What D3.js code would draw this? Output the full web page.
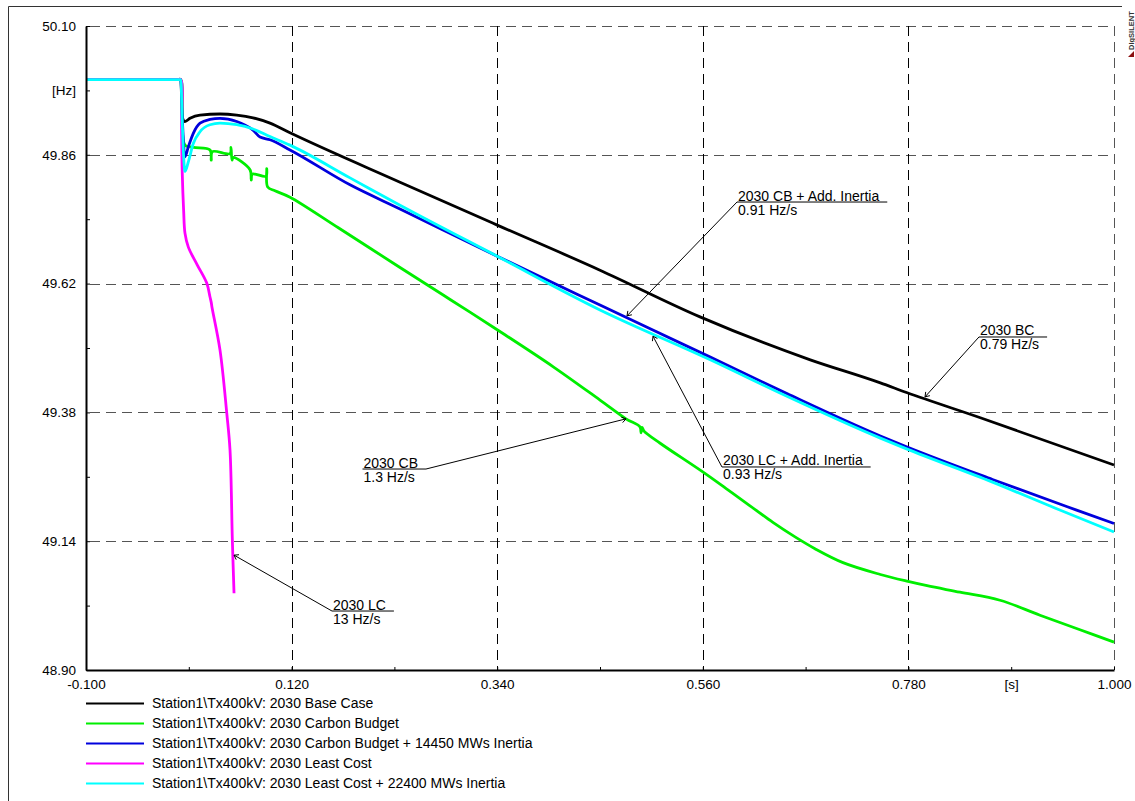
<!DOCTYPE html>
<html><head><meta charset="utf-8">
<script src="https://cdn.jsdelivr.net/npm/d3@7"></script>
<style>
body{margin:0;background:#fff}
svg{display:block}
text{font-family:"Liberation Sans",Arial,sans-serif;fill:#000}
</style>
</head><body><svg id="c" width="1135" height="801"></svg>
<script>
// ---------- axis ticks ----------
const xMajorTicks = [-0.1, 0.12, 0.34, 0.56, 0.78, 1.0];
const xTickLabels = ["-0.100", "0.120", "0.340", "0.560", "0.780", "1.000"];
const xMinorTicks = [0.01, 0.23, 0.45, 0.67, 0.89];
const xUnitLabel = "[s]";      // shown at minor tick 0.89
const yMajorTicks = [48.90, 49.14, 49.38, 49.62, 49.86, 50.10];
const yTickLabels = ["48.90", "49.14", "49.38", "49.62", "49.86", "50.10"];
const yMinorTicks = [49.02, 49.26, 49.50, 49.74, 49.98];
const yUnitLabel = "[Hz]";     // shown at minor tick 49.98

// ---------- series (time [s], frequency [Hz]) ----------
const seriesNames = [
  "Station1\\Tx400kV: 2030 Base Case",
  "Station1\\Tx400kV: 2030 Carbon Budget",
  "Station1\\Tx400kV: 2030 Carbon Budget + 14450 MWs Inertia",
  "Station1\\Tx400kV: 2030 Least Cost",
  "Station1\\Tx400kV: 2030 Least Cost + 22400 MWs Inertia"
];
const seriesColors = ["#000000", "#00ee00", "#0000dd", "#ff00ff", "#00ffff"];

const baseCase = [[-0.1,50.0],[0.0015,50.0],[0.0030,49.93],[0.0059,49.922],[0.0113,49.928],[0.022,49.934],[0.0434,49.936],[0.0613,49.934],[0.0787,49.929],[0.0969,49.919],[0.1183,49.901],[0.236,49.809],[0.340,49.729],[0.450,49.645],[0.557,49.558],[0.675,49.478],[0.750,49.435],[0.778,49.417],[0.857,49.370],[1.0,49.282]];

const carbonBudget = [[-0.1,50.0],[-0.003,50.0],[0.0015,50.0],[0.0030,49.93],[0.0059,49.878],[0.015,49.874],[0.0327,49.869],[0.0340,49.850],[0.0352,49.866],[0.0541,49.862],[0.0552,49.874],[0.0562,49.850],[0.0575,49.855],[0.0755,49.832],[0.0768,49.813],[0.0780,49.824],[0.0926,49.820],[0.0934,49.834],[0.0944,49.800],[0.1022,49.793],[0.1183,49.781],[0.17,49.724],[0.236,49.650],[0.29,49.590],[0.340,49.534],[0.40,49.465],[0.450,49.403],[0.4778,49.368],[0.4928,49.353],[0.4939,49.342],[0.4950,49.352],[0.4971,49.345],[0.514,49.323],[0.5592,49.270],[0.585,49.238],[0.6105,49.206],[0.635,49.175],[0.6587,49.148],[0.68,49.126],[0.71,49.100],[0.75,49.078],[0.7796,49.065],[0.80,49.057],[0.8352,49.045],[0.878,49.030],[0.9208,49.002],[0.9636,48.975],[1.0,48.952]];

const cbInertia = [[-0.1,50.0],[0.0015,50.0],[0.0030,49.93],[0.0059,49.856],[0.0095,49.875],[0.0148,49.900],[0.022,49.919],[0.0327,49.926],[0.0434,49.928],[0.0613,49.922],[0.0787,49.906],[0.0862,49.893],[0.0969,49.888],[0.1183,49.869],[0.1825,49.804],[0.236,49.759],[0.340,49.671],[0.450,49.580],[0.568,49.483],[0.65,49.415],[0.750,49.336],[0.778,49.316],[0.87,49.255],[0.960,49.198],[1.0,49.173]];

const leastCost = [[-0.1,50.0],[-0.003,50.0],[0.0015,50.0],[0.0022,49.92],[0.0030,49.826],[0.0045,49.755],[0.0059,49.714],[0.0095,49.688],[0.0190,49.655],[0.0292,49.621],[0.0327,49.595],[0.0340,49.585],[0.0348,49.576],[0.0434,49.496],[0.0506,49.379],[0.0541,49.310],[0.0566,49.142],[0.0584,49.043]];

const lcInertia = [[-0.1,50.0],[0.0015,50.0],[0.0030,49.92],[0.0059,49.829],[0.0095,49.847],[0.0148,49.881],[0.022,49.903],[0.0327,49.916],[0.0434,49.919],[0.0613,49.916],[0.0787,49.908],[0.0969,49.894],[0.1183,49.878],[0.1825,49.817],[0.236,49.766],[0.340,49.671],[0.450,49.571],[0.568,49.478],[0.65,49.410],[0.750,49.332],[0.778,49.312],[0.87,49.250],[0.942,49.198],[1.0,49.157]];

const allSeries = [baseCase, carbonBudget, cbInertia, leastCost, lcInertia];
const seriesCurve = ["monotone", "catmull", "monotone", "catmull", "monotone"];

// ---------- annotations (text lines, point on curve, label attach point) ----------
const annoText = [
  ["2030 CB + Add. Inertia", "0.91 Hz/s"],
  ["2030 BC", "0.79 Hz/s"],
  ["2030 CB", "1.3 Hz/s"],
  ["2030 LC", "13 Hz/s"],
  ["2030 LC + Add. Inertia", "0.93 Hz/s"]
];
const annoPoint  = [[0.4789,49.560],[0.7978,49.409],[0.4778,49.368],[0.0584,49.114],[0.5067,49.522]];
const annoAttach = [[0.5966,49.772],[0.8555,49.5205],[0.2638,49.2745],[0.1632,49.0099],[0.5805,49.2783]];
const annoSide   = ["left","left","right","left","left"];

// ---------- drawing ----------
const svg = d3.select("#c");
svg.append("rect").attr("width",1135).attr("height",801).attr("fill","#fff");

const x = d3.scaleLinear().domain([-0.1, 1.0]).range([86, 1114]);
const y = d3.scaleLinear().domain([48.90, 50.10]).range([670, 26]);

// outer frame
svg.append("line").attr("x1",8.5).attr("x2",8.5).attr("y1",6.5).attr("y2",801).attr("stroke","#333");
svg.append("line").attr("x1",8.5).attr("x2",1122).attr("y1",6.5).attr("y2",6.5).attr("stroke","#333");

// logo
svg.append("text").attr("transform","translate(1134,50) rotate(-90)")
  .attr("font-size",7.5).attr("font-weight","bold").style("fill","#333").text("DIgSILENT");
svg.append("path").attr("d","M1128,57 L1134,51 L1134,57 Z").attr("fill","#8b1010");

// grid
const grid = svg.append("g");
yMajorTicks.filter(v => v > 48.9).forEach(v => {
  grid.append("line").attr("x1",86).attr("x2",1114)
    .attr("y1",Math.round(y(v))+0.5).attr("y2",Math.round(y(v))+0.5)
    .attr("stroke","#555").attr("stroke-dasharray","10,6").attr("stroke-dashoffset",12);
});
xMajorTicks.filter(v => v > -0.1).forEach(v => {
  grid.append("line").attr("x1",Math.round(x(v))+0.5).attr("x2",Math.round(x(v))+0.5)
    .attr("y1",26).attr("y2",670)
    .attr("stroke", v >= 1.0 ? "#555" : "#000").attr("stroke-dasharray","10,6");
});

// curves
const curveTypes = {
  monotone: d3.curveMonotoneX,
  catmull: d3.curveCatmullRom.alpha(0.5)
};
const curves = svg.append("g");
allSeries.forEach((s, i) => {
  const gen = d3.line().x(d => x(d[0])).y(d => y(d[1])).curve(curveTypes[seriesCurve[i]]);
  curves.append("path").attr("d", gen(s)).attr("fill","none")
    .attr("stroke", seriesColors[i]).attr("stroke-width", 2.8)
    .attr("stroke-linejoin","round");
});

// axes
const xTicksAll = xMajorTicks.concat(xMinorTicks);
const xFmt = v => {
  const i = xMajorTicks.indexOf(v);
  if (i >= 0) return xTickLabels[i];
  return v === 0.89 ? xUnitLabel : "";
};
const xAxis = d3.axisBottom(x).tickValues(xTicksAll).tickFormat(xFmt)
  .tickSizeInner(-3).tickSizeOuter(0).tickPadding(9);
const gx = svg.append("g").attr("transform","translate(0,670)").call(xAxis);
gx.select(".domain").attr("stroke","#000").attr("stroke-width",2);
gx.selectAll(".tick text").attr("font-size",13.5).style("font-family","'Liberation Sans',Arial,sans-serif");
gx.selectAll(".tick line").attr("stroke","#000");

const yTicksAll = yMajorTicks.concat(yMinorTicks);
const yFmt = v => {
  const i = yMajorTicks.indexOf(v);
  if (i >= 0) return yTickLabels[i];
  return v === 49.98 ? yUnitLabel : "";
};
const yAxis = d3.axisLeft(y).tickValues(yTicksAll).tickFormat(yFmt)
  .tickSizeInner(-4).tickSizeOuter(0).tickPadding(10);
const gy = svg.append("g").attr("transform","translate(86,0)").call(yAxis);
gy.select(".domain").attr("stroke","#000").attr("stroke-width",2);
gy.selectAll(".tick text").attr("font-size",13.5).style("font-family","'Liberation Sans',Arial,sans-serif");
gy.selectAll(".tick line").attr("stroke","#000");

// annotations
const ag = svg.append("g");
annoText.forEach((lines, i) => {
  const ax = x(annoAttach[i][0]), ay = y(annoAttach[i][1]);
  const px = x(annoPoint[i][0]), py = y(annoPoint[i][1]);
  const t1 = ag.append("text").attr("font-size",14).text(lines[0]);
  const t2 = ag.append("text").attr("font-size",14).text(lines[1]);
  const w = Math.max(t1.node().getComputedTextLength(), t2.node().getComputedTextLength()) + 9;
  const left = annoSide[i] === "left" ? ax : ax - w;
  t1.attr("x", left + 1).attr("y", ay - 1.5);
  t2.attr("x", left + 1).attr("y", ay + 12.5);
  ag.append("line").attr("x1", left).attr("x2", left + w).attr("y1", ay).attr("y2", ay)
    .attr("stroke","#000").attr("stroke-width",1);
  ag.append("line").attr("x1", ax).attr("y1", ay).attr("x2", px).attr("y2", py)
    .attr("stroke","#000").attr("stroke-width",1);
  // small arrow barb
  const ang = Math.atan2(ay - py, ax - px);
  [0.6, -0.6].forEach(da => {
    ag.append("line").attr("x1", px).attr("y1", py)
      .attr("x2", px + 5 * Math.cos(ang + da)).attr("y2", py + 5 * Math.sin(ang + da))
      .attr("stroke","#000").attr("stroke-width",1);
  });
});

// legend
const lg = svg.append("g");
seriesNames.forEach((n, i) => {
  const ly = 703.5 + i * 20;
  lg.append("line").attr("x1",86).attr("x2",144).attr("y1",ly).attr("y2",ly)
    .attr("stroke", seriesColors[i]).attr("stroke-width",2);
  lg.append("text").attr("x",152).attr("y",ly).attr("dy","0.35em")
    .attr("font-size",14).text(n);
});
</script>
</body></html>
